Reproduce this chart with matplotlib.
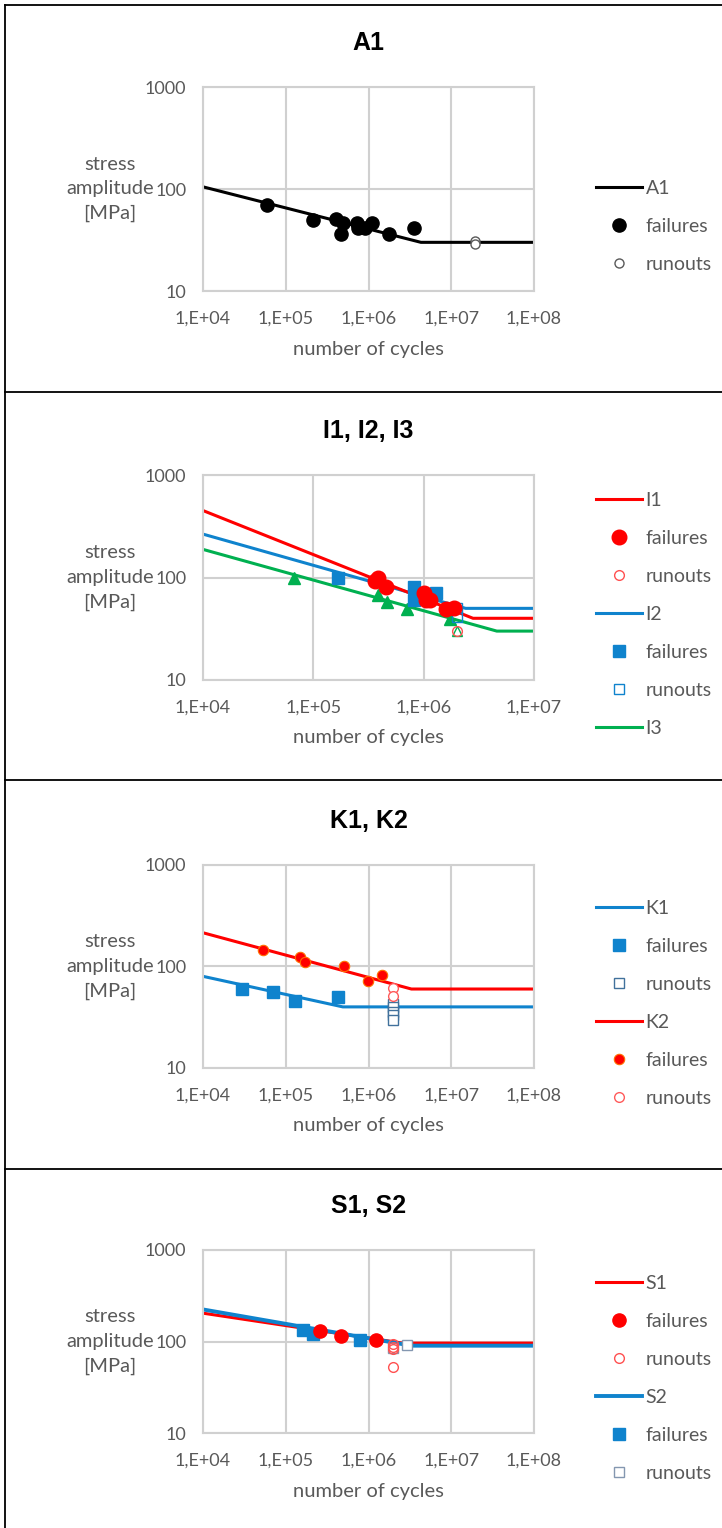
import numpy as np
import matplotlib
matplotlib.use('Agg')
import matplotlib.pyplot as plt
from matplotlib.lines import Line2D
from matplotlib.ticker import FixedLocator, FuncFormatter, NullLocator

plt.rcParams['font.family'] = ['Lato', 'DejaVu Sans']

# ---- data (cycles, stress amplitude in MPa) ----
# A1
a1_line_n = [1e4, 4.3e6, 1e8]
a1_line_s = [105, 30, 30]
a1_fail_n = [5.9e4, 2.15e5, 4.0e5, 4.95e5, 4.7e5, 7.2e5, 7.4e5, 9.1e5, 1.09e6, 1.79e6, 3.5e6]
a1_fail_s = [70, 50, 51, 46, 36, 46, 41, 41, 46, 36, 41]
a1_run_n = [1.95e7, 1.95e7]
a1_run_s = [31, 29]

# I1, I2, I3
i1_line_n = [1e4, 2.8e6, 1e7]
i1_line_s = [450, 40, 40]
i1_fail_n = [3.6e5, 3.85e5, 4.6e5, 1.0e6, 1.05e6, 1.15e6, 1.6e6, 1.9e6]
i1_fail_s = [92, 100, 81, 70, 60, 60, 49, 50]
i1_run_n = [2e6]
i1_run_s = [30]
i2_line_n = [1e4, 2.4e6, 1e7]
i2_line_s = [265, 50, 50]
i2_fail_n = [1.68e5, 8.1e5, 8.1e5, 1.3e6]
i2_fail_s = [100, 80, 61, 71]
i2_run_n = [2e6, 2e6]
i2_run_s = [50, 41]
i3_line_n = [1e4, 4.6e6, 1e7]
i3_line_s = [188, 30, 30]
i3_fail_n = [6.7e4, 3.85e5, 4.65e5, 7.0e5, 1.72e6]
i3_fail_s = [99, 68, 58, 49, 39]
i3_run_n = [2e6]
i3_run_s = [30]

# K1, K2
k1_line_n = [1e4, 4.9e5, 1e8]
k1_line_s = [80, 40, 40]
k1_fail_n = [3.0e4, 7.0e4, 1.28e5, 4.3e5]
k1_fail_s = [60, 56, 46, 50]
k1_run_n = [2e6, 2e6, 2e6, 2e6, 2e6]
k1_run_s = [43, 40, 36, 33, 30]
k2_line_n = [1e4, 3.3e6, 1e8]
k2_line_s = [215, 60, 60]
k2_fail_n = [5.3e4, 1.48e5, 1.73e5, 5.1e5, 9.9e5, 1.44e6]
k2_fail_s = [145, 125, 112, 101, 72, 82]
k2_run_n = [2e6, 2e6]
k2_run_s = [61, 51]

# S1, S2
s1_line_n = [1e4, 2.6e6, 1e8]
s1_line_s = [204, 96, 96]
s1_fail_n = [2.6e5, 4.7e5, 1.24e6]
s1_fail_s = [130, 116, 104]
s1_run_n = [2e6, 2e6, 2e6, 2e6]
s1_run_s = [95, 87, 83, 52]
s2_line_n = [1e4, 3.3e6, 1e8]
s2_line_s = [224, 90, 90]
s2_fail_n = [1.62e5, 2.15e5, 7.8e5]
s2_fail_s = [135, 120, 105]
s2_run_n = [2e6, 2.9e6]
s2_run_s = [85, 92]

# ---- style ----
RED = '#ff0000'
BLUE = '#0f83cd'
GREEN = '#00b050'
TXT = '#595959'
GRID = '#d0d0d0'
FS_TICK = 13
FS_LAB = 14.5
FS_LEG = 14

W, H = 722, 1528
fig = plt.figure(figsize=(W / 100, H / 100), dpi=100)


def box(l, t, r, b):
    return [l / W, 1 - b / H, (r - l) / W, (b - t) / H]


def make_axes(top, bottom, xmax, title):
    ax = fig.add_axes(box(203, top, 534, bottom))
    ax.set_xscale('log')
    ax.set_yscale('log')
    ax.set_xlim(1e4, xmax)
    ax.set_ylim(10, 1000)
    ax.xaxis.set_major_locator(FixedLocator(10.0 ** np.arange(4, np.log10(xmax) + 0.5)))
    ax.yaxis.set_major_locator(FixedLocator([10, 100, 1000]))
    ax.xaxis.set_minor_locator(NullLocator())
    ax.yaxis.set_minor_locator(NullLocator())
    ax.xaxis.set_major_formatter(FuncFormatter(lambda v, p: '1,E+%02d' % round(np.log10(v))))
    ax.yaxis.set_major_formatter(FuncFormatter(lambda v, p: '%d' % v))
    ax.grid(True, color=GRID, lw=1.5)
    ax.set_axisbelow(True)
    for s in ax.spines.values():
        s.set_color(GRID)
        s.set_linewidth(1.5)
    ax.tick_params(length=0, labelsize=FS_TICK, labelcolor=TXT)
    ax.tick_params(axis='x', pad=14)
    ax.tick_params(axis='y', pad=12)
    h = bottom - top
    ax.text(0.5, 1 + 44 / h, title, transform=ax.transAxes, ha='center', va='center',
            fontsize=18, fontweight='bold', family='Liberation Sans')
    ax.set_ylabel('stress\namplitude\n[MPa]', rotation=0, fontsize=FS_LAB, color=TXT,
                  ha='center', va='center', linespacing=1.55)
    ax.yaxis.set_label_coords((110 - 203) / 331, 0.5)
    ax.set_xlabel('number of cycles', fontsize=FS_LAB, color=TXT, va='center')
    ax.xaxis.set_label_coords(0.5, -58 / h)
    return ax


def add_legend(ax, handles, labels, center_y):
    fx = 596 / W
    fy = 1 - center_y / H
    ax.legend(handles, labels, loc='center left', bbox_to_anchor=(fx, fy),
              bbox_transform=fig.transFigure, frameon=False, fontsize=FS_LEG,
              labelcolor=TXT, borderpad=0, borderaxespad=0, handlelength=2.35,
              handletextpad=0.2, labelspacing=1.08, numpoints=1)


# ---- panel A1 ----
ax = make_axes(87, 291, 1e8, 'A1')
la, = ax.plot(a1_line_n, a1_line_s, color='black', lw=2.2)
fa, = ax.plot(a1_fail_n, a1_fail_s, 'o', color='black', ms=9.5, ls='none')
ra, = ax.plot(a1_run_n, a1_run_s, 'o', mfc='white', mec='#595959', mew=1, ms=6.5, ls='none')
add_legend(ax, [la, fa, ra], ['A1', 'failures', 'runouts'], 226)

# ---- panel I1, I2, I3 ----
ax = make_axes(475, 680, 1e7, 'I1, I2, I3')
l2, = ax.plot(i2_line_n, i2_line_s, color=BLUE, lw=2.2)
l3, = ax.plot(i3_line_n, i3_line_s, color=GREEN, lw=2.2)
l1, = ax.plot(i1_line_n, i1_line_s, color=RED, lw=2.2)
ax.plot(i3_fail_n, i3_fail_s, '^', color=GREEN, ms=8.5, ls='none')
ax.plot(i3_run_n, i3_run_s, '^', mfc='white', mec=GREEN, mew=1, ms=7, ls='none')
f2, = ax.plot(i2_fail_n, i2_fail_s, 's', color=BLUE, ms=8, ls='none')
r2, = ax.plot(i2_run_n, i2_run_s, 's', mfc='none', mec=BLUE, mew=1, ms=7, ls='none')
f1, = ax.plot(i1_fail_n, i1_fail_s, 'o', color=RED, ms=10.5, ls='none')
r1, = ax.plot(i1_run_n, i1_run_s, 'o', mfc='none', mec='#ff5050', mew=1, ms=7, ls='none')
add_legend(ax, [l1, f1, r1, l2, f2, r2, l3],
           ['I1', 'failures', 'runouts', 'I2', 'failures', 'runouts', 'I3'], 614.5)

# ---- panel K1, K2 ----
ax = make_axes(865, 1068, 1e8, 'K1, K2')
lk2, = ax.plot(k2_line_n, k2_line_s, color=RED, lw=2.2)
lk1, = ax.plot(k1_line_n, k1_line_s, color=BLUE, lw=2.2)
fk1, = ax.plot(k1_fail_n, k1_fail_s, 's', color=BLUE, ms=9, ls='none')
rk1, = ax.plot(k1_run_n, k1_run_s, 's', mfc='white', mec='#41719c', mew=1, ms=6.5, ls='none')
fk2, = ax.plot(k2_fail_n, k2_fail_s, 'o', mfc=RED, mec='#ff7000', mew=0.8, ms=7.5, ls='none')
rk2, = ax.plot(k2_run_n, k2_run_s, 'o', mfc='white', mec='#ff5a5a', mew=1, ms=7, ls='none')
add_legend(ax, [lk1, fk1, rk1, lk2, fk2, rk2],
           ['K1', 'failures', 'runouts', 'K2', 'failures', 'runouts'], 1003.5)

# ---- panel S1, S2 ----
ax = make_axes(1250, 1433, 1e8, 'S1, S2')
ls1, = ax.plot(s1_line_n, s1_line_s, color=RED, lw=2.2)
ls2, = ax.plot(s2_line_n, s2_line_s, color=BLUE, lw=2.8)
fs2, = ax.plot(s2_fail_n, s2_fail_s, 's', color=BLUE, ms=8, ls='none')
rs2, = ax.plot(s2_run_n, s2_run_s, 's', mfc='white', mec='#8497b0', mew=1, ms=7, ls='none')
fs1, = ax.plot(s1_fail_n, s1_fail_s, 'o', color=RED, ms=9.5, ls='none')
rs1, = ax.plot(s1_run_n, s1_run_s, 'o', mfc='none', mec='#ff5050', mew=1, ms=7, ls='none')
add_legend(ax, [ls1, fs1, rs1, ls2, fs2, rs2],
           ['S1', 'failures', 'runouts', 'S2', 'failures', 'runouts'], 1378.5)

# ---- panel frames ----
for y in [5, 392, 780, 1169]:
    fig.add_artist(Line2D([5 / W, 1], [1 - y / H, 1 - y / H], transform=fig.transFigure,
                          color='black', lw=1.3))
fig.add_artist(Line2D([5 / W, 5 / W], [0, 1 - 5 / H], transform=fig.transFigure,
                      color='black', lw=1.3))

fig.savefig('out.png', dpi=100)
